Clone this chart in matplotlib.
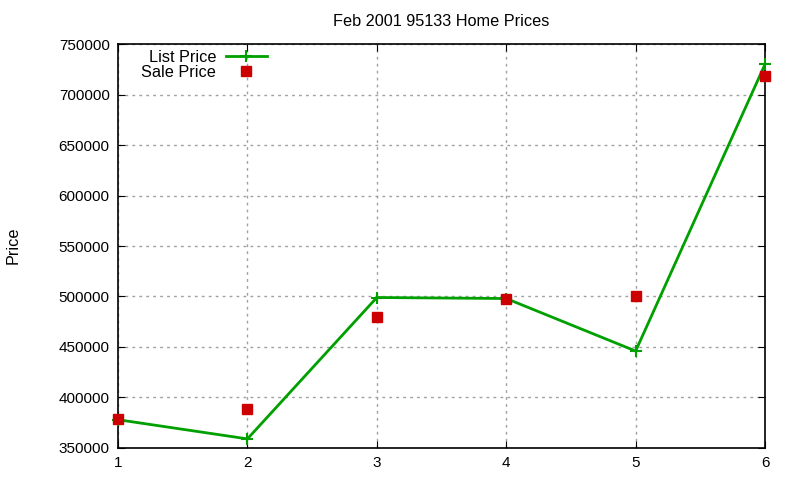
import matplotlib
matplotlib.use("Agg")
import matplotlib.pyplot as plt

x = [1, 2, 3, 4, 5, 6]
list_price = [378000, 359000, 499000, 498000, 446000, 730000]
sale_price = [379000, 389000, 480000, 498000, 500000, 718000]
yticks = [350000, 400000, 450000, 500000, 550000, 600000, 650000, 700000, 750000]

plt.rcParams['font.family'] = ['Liberation Sans', 'DejaVu Sans']
fig = plt.figure(figsize=(8, 4.8), dpi=100)
ax = fig.add_axes([0.1475, 0.0667, 0.8088, 0.8416])

ax.plot(x, list_price, color='#00a000', lw=2, marker='+', ms=9, mew=1.5, label='List Price', zorder=3, clip_on=False)
ax.plot(x, sale_price, color='#cc0000', ls='none', marker='s', ms=7, label='Sale Price', zorder=4, clip_on=False)

ax.set_xlim(1, 6)
ax.set_ylim(350000, 750000)
ax.set_xticks(x)
ax.set_yticks(yticks)
ax.tick_params(direction='in', top=True, right=True, labelsize=11, length=5, pad=6)
ax.grid(True, color='#a0a0a0', ls=(0, (2, 3)), lw=1)
for s in ax.spines.values():
    s.set_linewidth(1.2)

ax.set_title('Feb 2001 95133 Home Prices', fontsize=11.7, pad=13)
fig.text(0.016, 0.49, 'Price', rotation=90, fontsize=11.7, va='center', ha='center')

leg = ax.legend(loc='upper left', bbox_to_anchor=(0.021, 1.01), frameon=False, markerfirst=False,
                fontsize=11.7, handlelength=2.5, handletextpad=0.6, labelspacing=0.0, borderaxespad=0.2)
for t in leg.get_texts():
    t.set_ha('right')
    t.set_position((0, 0))

fig.savefig('out.png', dpi=100)
